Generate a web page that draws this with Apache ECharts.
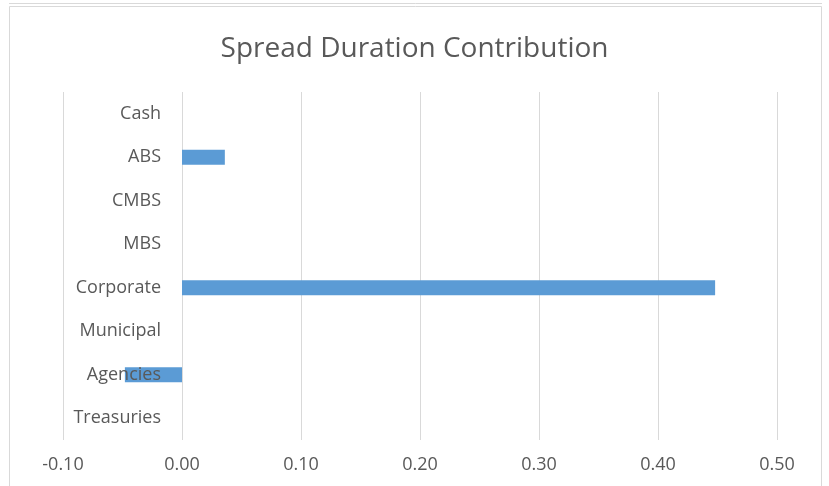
<!DOCTYPE html>
<html>
<head>
<meta charset="utf-8">
<script src="https://cdn.jsdelivr.net/npm/echarts@6/dist/echarts.min.js"></script>
<style>
  html, body { margin: 0; padding: 0; background: #fff; }
  #chart { width: 829px; height: 486px; }
</style>
</head>
<body>
<div id="chart"></div>
<script>
// Sectors, listed bottom to top on the category axis
const sectors = ['Treasuries', 'Agencies', 'Municipal', 'Corporate', 'MBS', 'CMBS', 'ABS', 'Cash'];
// Spread duration contribution per sector
const contribution = [0, -0.048, 0, 0.448, 0, 0, 0.036, 0];
// Value axis range
const axisMin = -0.1;
const axisMax = 0.5;
const axisStep = 0.1;

const chart = echarts.init(document.getElementById('chart'));
const textColor = '#595959';
const font = '"Open Sans", "Noto Sans", sans-serif';

// Plot area bounds; the category axis sits where the value axis crosses zero
const gridLeft = 63;
const gridRight = 52;
const plotWidth = 829 - gridLeft - gridRight;
const zeroOffset = plotWidth * (0 - axisMin) / (axisMax - axisMin);

chart.setOption({
  animation: false,
  backgroundColor: '#ffffff',
  title: {
    text: 'Spread Duration Contribution',
    left: 'center',
    top: 30,
    textStyle: { color: textColor, fontSize: 28, fontWeight: 'normal', fontFamily: font }
  },
  graphic: [
    {
      type: 'rect',
      shape: { x: 9.5, y: 6.5, width: 812, height: 490 },
      style: { fill: 'none', stroke: '#d9d9d9', lineWidth: 1 },
      silent: true
    },
    {
      type: 'line',
      shape: { x1: 9, y1: 3.5, x2: 822, y2: 3.5 },
      style: { stroke: '#d9d9d9', lineWidth: 1 },
      silent: true
    }
  ],
  grid: { left: gridLeft, right: gridRight, top: 92, bottom: 46, containLabel: false, outerBoundsMode: 'none' },
  xAxis: {
    type: 'value',
    min: axisMin,
    max: axisMax,
    interval: axisStep,
    axisLine: { show: false },
    axisTick: { show: false },
    splitLine: { show: true, lineStyle: { color: '#d9d9d9', width: 1 } },
    axisLabel: {
      color: textColor,
      fontSize: 18,
      fontFamily: font,
      margin: 16,
      formatter: v => v.toFixed(2)
    }
  },
  yAxis: {
    type: 'category',
    data: sectors,
    offset: -zeroOffset,
    z: 10,
    axisLine: { show: false },
    axisTick: { show: false },
    splitLine: { show: false },
    axisLabel: { color: textColor, fontSize: 18, fontFamily: font, margin: 21 }
  },
  series: [{
    type: 'bar',
    data: contribution,
    barWidth: 15,
    itemStyle: { color: '#5b9bd5' },
    z: 1
  }]
});
</script>
</body>
</html>
